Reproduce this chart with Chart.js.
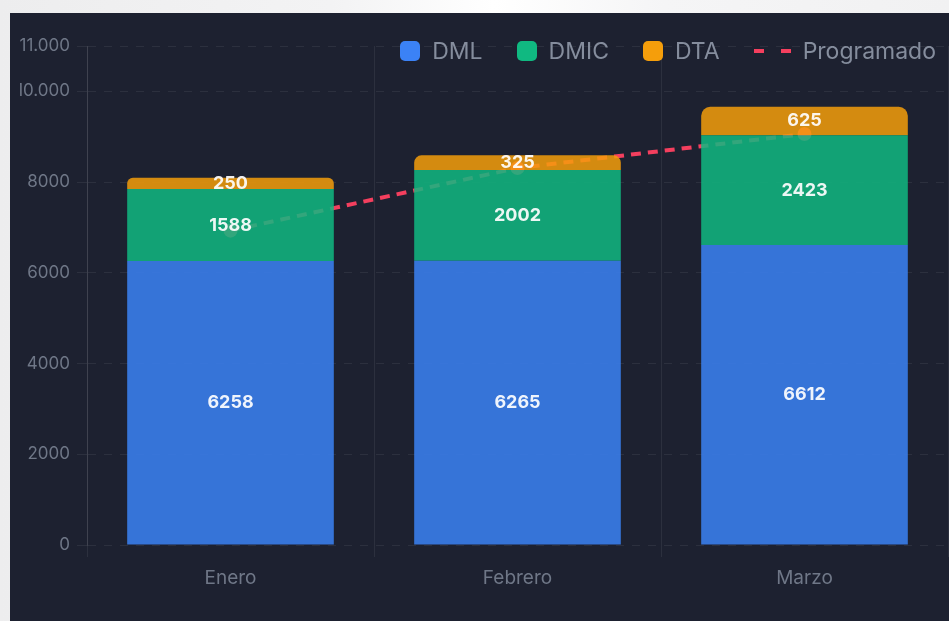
<!DOCTYPE html>
<html lang="es">
<head>
<meta charset="utf-8">
<title>DML / DMIC / DTA vs Programado</title>
<script src="https://cdn.jsdelivr.net/npm/chart.js@4.4.1/dist/chart.umd.min.js"></script>
<style>
  html, body { margin: 0; padding: 0; }
  body {
    width: 949px; height: 621px; overflow: hidden; position: relative;
    background: linear-gradient(90deg, #ededee 0%, #f3f3f4 35%, #ffffff 52%, #f5f5f6 70%, #f1f1f2 100%);
  }
  #panel {
    position: absolute; left: 10px; top: 13px; width: 945px; height: 620px;
    background: #1d2130;
  }
  #legend {
    position: absolute; right: 19px; top: 25px; height: 26px;
    display: flex; align-items: center; gap: 34px;
    font-family: Inter, 'Noto Sans', sans-serif; font-size: 23px; color: #858d9d;
  }
  .item { display: flex; align-items: center; gap: 12px; line-height: 26px; }
  .swatch { width: 20px; height: 20px; border-radius: 5px; }
  .dash { width: 37px; height: 4px; background: repeating-linear-gradient(90deg, #f43f5e 0 10px, transparent 10px 27px); }
</style>
</head>
<body>
<div id="panel">
  <canvas id="myChart"></canvas>
  <div id="legend"></div>
</div>
<script>
const categories = ['Enero', 'Febrero', 'Marzo']
const dmlValues = [6258, 6265, 6612]
const dmicValues = [1588, 2002, 2423]
const dtaValues = [250, 325, 625]
const programadoValues = [6930, 8310, 9060]
const yTickValues = [0, 2000, 4000, 6000, 8000, 10000, 11000]

const seriesNames = ['DML', 'DMIC', 'DTA', 'Programado']
const seriesColors = ['#3b82f6', '#10b981', '#f59e0b', '#f43f5e']

function withAlpha(hex, a) {
  const n = parseInt(hex.slice(1), 16)
  return `rgba(${n >> 16}, ${(n >> 8) & 255}, ${n & 255}, ${a})`
}

// miles con punto solo desde 10.000 (como en el original)
function formatTick(v) {
  const s = String(v)
  return v >= 10000 ? s.replace(/\B(?=(\d{3})+(?!\d))/g, '.') : s
}

// numeros dentro de cada tramo de la barra
const barValueLabels = {
  id: 'barValueLabels',
  afterDatasetsDraw(chart) {
    const ctx = chart.ctx
    ctx.save()
    ctx.font = 'bold 18px Inter, "Noto Sans", sans-serif'
    ctx.fillStyle = 'rgba(255, 255, 255, 0.92)'
    ctx.textAlign = 'center'
    ctx.textBaseline = 'middle'
    chart.data.datasets.forEach((ds, i) => {
      if (ds.type === 'line') return
      chart.getDatasetMeta(i).data.forEach((bar, j) => {
        ctx.fillText(ds.data[j], bar.x, (bar.y + bar.base) / 2)
      })
    })
    ctx.restore()
  }
}

const ctx = document.getElementById('myChart').getContext('2d')

const myChart = new Chart(ctx, {
  type: 'bar',
  data: {
    labels: categories,
    datasets: [
      { label: seriesNames[0], data: dmlValues, backgroundColor: withAlpha(seriesColors[0], 0.85), order: 1, stack: 's' },
      { label: seriesNames[1], data: dmicValues, backgroundColor: withAlpha(seriesColors[1], 0.85), order: 2, stack: 's' },
      {
        label: seriesNames[2], data: dtaValues, backgroundColor: withAlpha(seriesColors[2], 0.85), order: 3, stack: 's',
        borderRadius: { topLeft: 9, topRight: 9, bottomLeft: 0, bottomRight: 0 }, borderSkipped: false
      },
      {
        type: 'line', label: seriesNames[3], data: programadoValues, order: 4,
        borderColor: seriesColors[3], borderWidth: 4, borderDash: [10, 7],
        pointRadius: 7, pointBackgroundColor: seriesColors[3], pointBorderWidth: 0,
        tension: 0, fill: false
      }
    ]
  },
  options: {
    responsive: true,
    maintainAspectRatio: false,
    animation: false,
    layout: { padding: { top: 33, left: 10, right: 4, bottom: 38 } },
    plugins: {
      legend: { display: false },
      tooltip: { enabled: false }
    },
    scales: {
      x: {
        stacked: true,
        afterFit(scale) { scale.height = 50 },
        grid: { color: 'rgba(255, 255, 255, 0.07)', tickLength: 12 },
        border: { display: false },
        ticks: { color: '#6f7787', padding: 10, font: { family: 'Inter', size: 19 } }
      },
      y: {
        stacked: true,
        min: 0,
        max: 11000,
        afterFit(scale) { scale.width = 67 },
        afterBuildTicks(scale) { scale.ticks = yTickValues.map(v => ({ value: v })) },
        grid: { color: 'rgba(255, 255, 255, 0.07)', tickLength: 10 },
        border: { color: 'rgba(255, 255, 255, 0.09)', dash: [8, 8] },
        ticks: { color: '#6f7787', padding: 7, font: { family: 'Inter', size: 17 }, callback: formatTick }
      }
    }
  },
  plugins: [barValueLabels]
})

// leyenda en HTML, arriba a la derecha
const legendBox = document.getElementById('legend')
seriesNames.forEach((name, i) => {
  const item = document.createElement('div')
  item.className = 'item'
  const mark = document.createElement('span')
  if (i === 3) {
    mark.className = 'dash'
  } else {
    mark.className = 'swatch'
    mark.style.background = seriesColors[i]
  }
  const txt = document.createElement('span')
  txt.textContent = name
  item.appendChild(mark)
  item.appendChild(txt)
  legendBox.appendChild(item)
})
</script>
</body>
</html>
